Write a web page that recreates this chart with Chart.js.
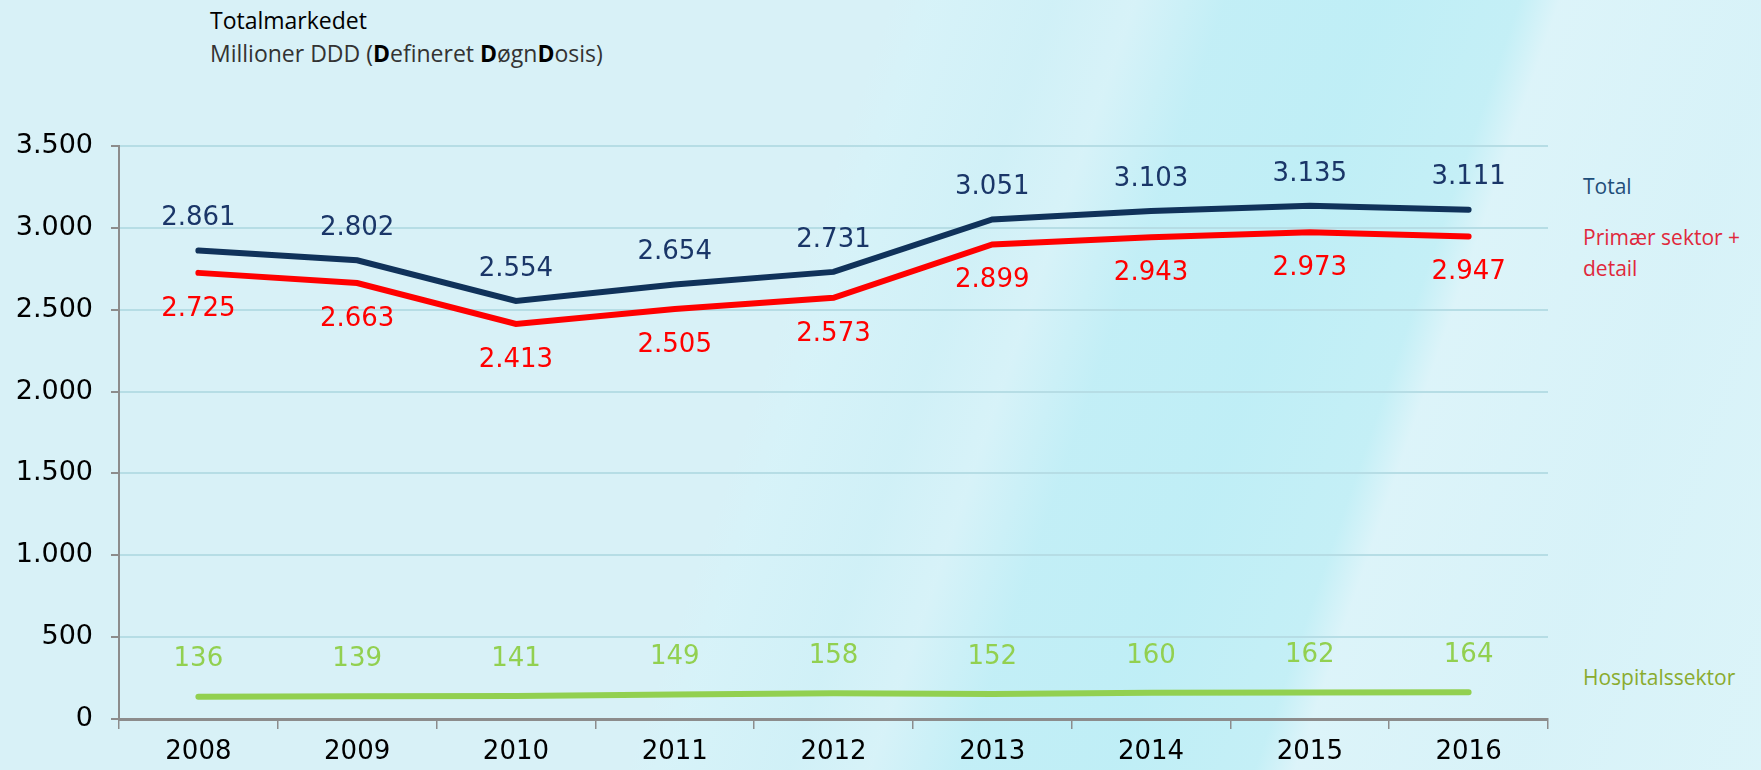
<!DOCTYPE html>
<html>
<head>
<meta charset="utf-8">
<script src="https://cdn.jsdelivr.net/npm/chart.js@4.4.1/dist/chart.umd.min.js"></script>
<style>
  html, body { margin: 0; padding: 0; }
  body {
    width: 1761px; height: 770px; overflow: hidden; position: relative;
    background:
      linear-gradient(109deg,
        rgba(0,0,0,0) 0%,
        rgba(0,0,0,0) 44%,
        rgba(214,243,249,0.7) 46%,
        rgba(205,240,247,0.7) 52%,
        rgba(214,243,249,0.6) 56%,
        rgba(192,238,246,0.9) 60.5%,
        rgba(190,238,246,0.95) 68%,
        rgba(194,239,246,0.9) 75%,
        rgba(222,245,250,0.7) 77%,
        rgba(215,243,249,0.6) 88%,
        rgba(222,246,250,0.6) 100%),
      #d8f1f7;
  }
  #c { position: absolute; left: 0; top: 0; }
  .txt { position: absolute; white-space: nowrap; font-family: "Open Sans", "Noto Sans", sans-serif; line-height: 30px; }
  #title { left: 210px; top: 5px; font-size: 23px; color: #000; font-weight: 500; }
  #sub { left: 210px; top: 38px; font-size: 23px; color: #333; }
  #sub b { color: #000; font-weight: 700; }
  .leg { font-size: 21px; left: 1583px; }
</style>
</head>
<body>
<div class="txt" id="title">Totalmarkedet</div>
<div class="txt" id="sub">Millioner DDD (<b>D</b>efineret <b>D</b>øgn<b>D</b>osis)</div>
<div class="txt leg" style="top:171px; color:#1f4e79;">Total</div>
<div class="txt leg" style="top:222px; color:#e0283c;">Primær sektor +</div>
<div class="txt leg" style="top:253px; color:#e0283c;">detail</div>
<div class="txt leg" style="top:662px; color:#8aab2e;">Hospitalssektor</div>
<canvas id="c" width="1761" height="770"></canvas>
<script>
const years = ['2008','2009','2010','2011','2012','2013','2014','2015','2016'];
const totalValues = [2861, 2802, 2554, 2654, 2731, 3051, 3103, 3135, 3111];
const primaryValues = [2725, 2663, 2413, 2505, 2573, 2899, 2943, 2973, 2947];
const hospitalValues = [136, 139, 141, 149, 158, 152, 160, 162, 164];
const yTickLabels = ['0','500','1.000','1.500','2.000','2.500','3.000','3.500'];

function fmt(v) {
  return String(v).replace(/\B(?=(\d{3})+(?!\d))/g, '.');
}

const labelPlugin = {
  id: 'valueLabels',
  afterDatasetsDraw(chart) {
    const ctx = chart.ctx;
    ctx.save();
    ctx.font = '26px "DejaVu Sans", Verdana, sans-serif';
    ctx.textAlign = 'center';
    ctx.textBaseline = 'middle';
    chart.data.datasets.forEach((ds, di) => {
      const meta = chart.getDatasetMeta(di);
      meta.data.forEach((pt, i) => {
        ctx.fillStyle = ds.labelColor;
        ctx.fillText(fmt(ds.data[i]), pt.x, pt.y + ds.labelOffset);
      });
    });
    ctx.restore();
  }
};

new Chart(document.getElementById('c'), {
  type: 'line',
  data: {
    labels: years,
    datasets: [
      { label: 'Total', data: totalValues, borderColor: '#10325a', labelColor: '#1a3668', labelOffset: -32, borderWidth: 6, pointRadius: 0, tension: 0, fill: false, borderCapStyle: 'round' },
      { label: 'Primær sektor + detail', data: primaryValues, borderColor: '#ff0000', labelColor: '#ff0000', labelOffset: 36, borderWidth: 6, pointRadius: 0, tension: 0, fill: false, borderCapStyle: 'round' },
      { label: 'Hospitalssektor', data: hospitalValues, borderColor: '#92d050', labelColor: '#92d050', labelOffset: -37, borderWidth: 6, pointRadius: 0, tension: 0, fill: false, borderCapStyle: 'round' }
    ]
  },
  options: {
    responsive: false,
    animation: false,
    layout: { padding: { left: 0, right: 213, top: 146, bottom: 0 } },
    plugins: { legend: { display: false }, tooltip: { enabled: false }, title: { display: false } },
    scales: {
      x: {
        offset: true,
        grid: { offset: true, drawOnChartArea: false, drawTicks: true, tickLength: 10, tickColor: '#8c8c8c', lineWidth: 1.5 },
        border: { color: '#8c8c8c', width: 3 },
        ticks: { color: '#000', font: { family: '"DejaVu Sans", Verdana, sans-serif', size: 26 }, padding: 8, maxRotation: 0 },
        afterFit(s) { s.height = 51; }
      },
      y: {
        min: 0, max: 3500,
        ticks: {
          stepSize: 500, color: '#000', padding: 18,
          font: { family: '"DejaVu Sans", Verdana, sans-serif', size: 27 },
          callback: (v) => yTickLabels[Math.round(v / 500)]
        },
        grid: { color: '#b6dde5', lineWidth: 2, tickColor: '#8c8c8c', tickLength: 8, drawTicks: true },
        border: { color: '#8c8c8c', width: 2 },
        afterFit(s) { s.width = 119; }
      }
    }
  },
  plugins: [labelPlugin]
});
</script>
</body>
</html>
